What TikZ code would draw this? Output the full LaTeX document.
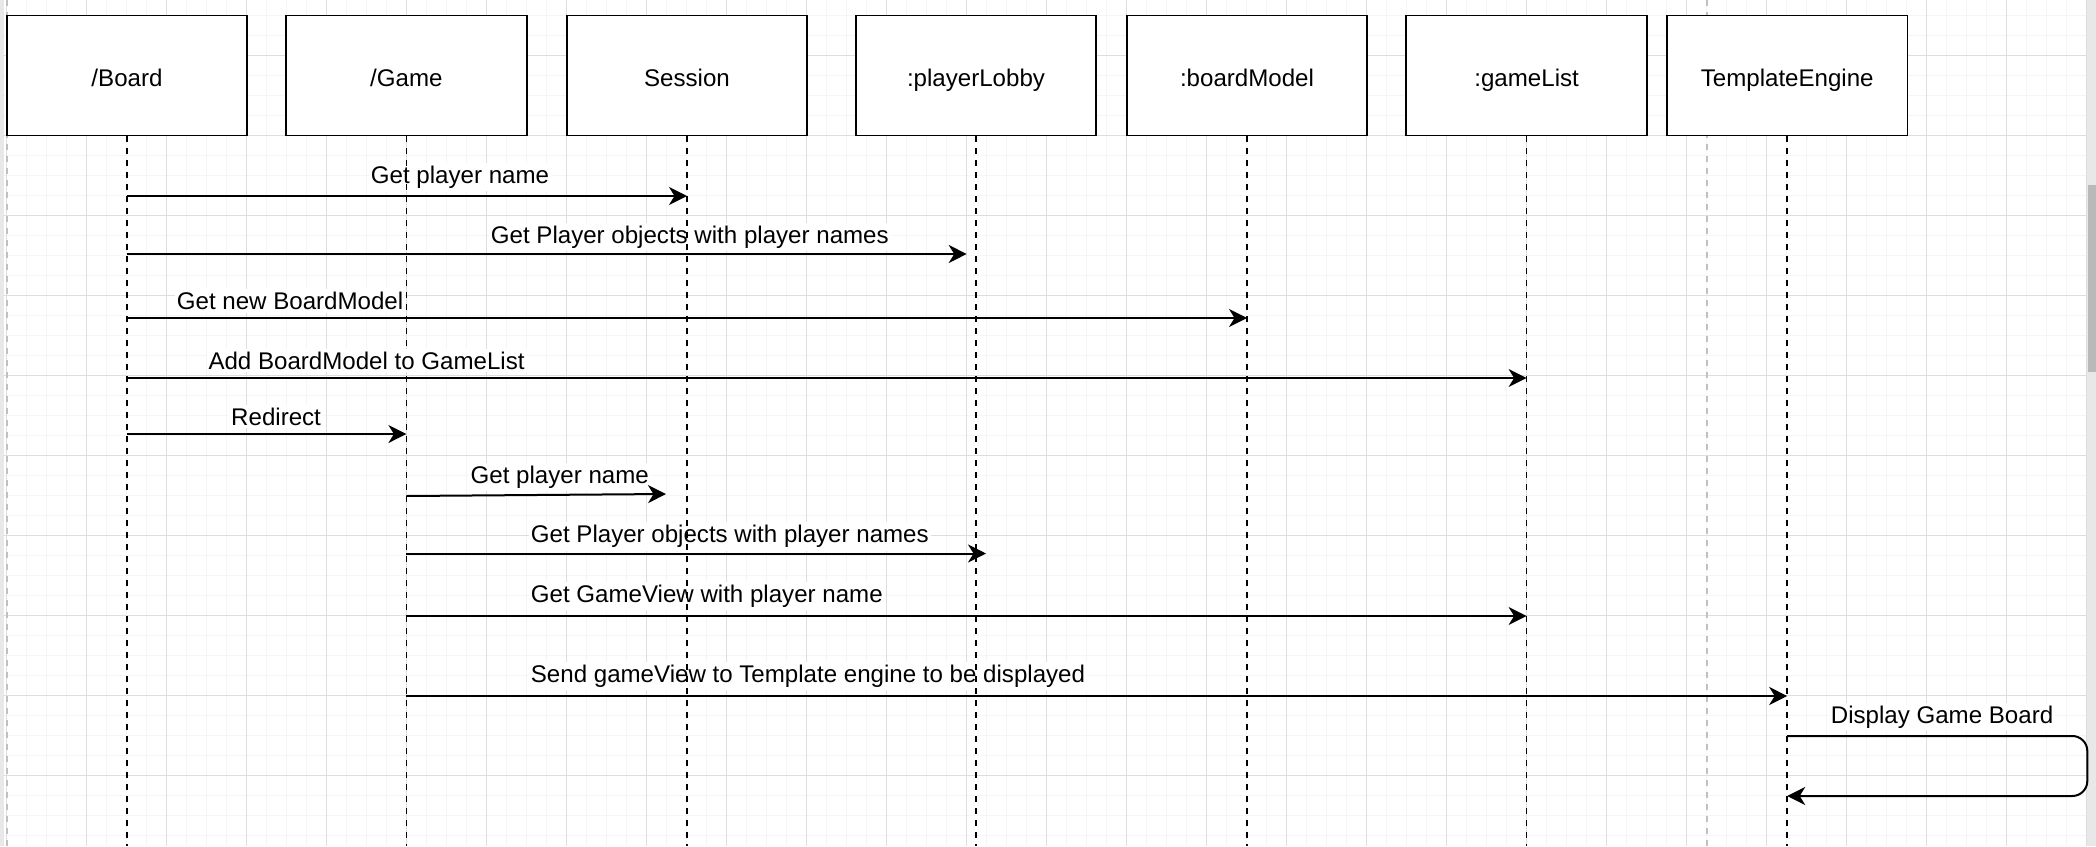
\documentclass[tikz,border=0pt]{standalone}
\usepackage{fontspec}
\setmainfont{Liberation Sans}
\usetikzlibrary{arrows.meta}
\definecolor{majorgrid}{RGB}{222,222,222}
\definecolor{minorgrid}{RGB}{245,245,245}
\definecolor{pagebreak}{RGB}{192,192,192}
\definecolor{trackgray}{RGB}{232,232,232}
\definecolor{thumbgray}{RGB}{185,185,185}
\begin{document}
\begin{tikzpicture}[x=1pt,y=-1pt,
  txt/.style={font=\fontsize{24.1pt}{28pt}\selectfont},
  box/.style={txt, draw=black, line width=1.8pt, fill=white, minimum width=240.6pt,
    minimum height=120pt, inner sep=0pt, text height=21pt, text depth=0pt},
  msglabel/.style={txt, anchor=base west, fill=white, inner xsep=2pt, inner ysep=3pt},
  lifeline/.style={draw=black, line width=1.7pt, dash pattern=on 6pt off 6pt},
  pageline/.style={draw=pagebreak, line width=1.7pt, dash pattern=on 6pt off 6pt},
  msg/.style={draw=black, line width=2pt, -{Stealth[length=18pt,width=18pt,inset=5.5pt]}},
  minorline/.style={draw=minorgrid, line width=1.2pt},
  majorline/.style={draw=majorgrid, line width=1pt}]
\useasboundingbox (0,0) rectangle (2096,846);
% background grid
\fill[white] (0,0) rectangle (2096,846);
\foreach \k in {0,...,104} \draw[minorline] ({6.7+20*\k},0) -- ({6.7+20*\k},846);
\foreach \k in {0,...,41} \draw[minorline] (0,{15.3+20*\k}) -- (2087,{15.3+20*\k});
\foreach \k in {0,...,26} \draw[majorline] ({6.7+80*\k},0) -- ({6.7+80*\k},846);
\foreach \k in {0,...,9} \draw[majorline] (0,{55.3+80*\k}) -- (2087,{55.3+80*\k});
% window edges
\fill[trackgray] (0,0) rectangle (4,846);
\fill[trackgray] (2087.3,0) rectangle (2096,846);
\fill[thumbgray] (2088.3,185) rectangle (2096,371.7);
% page break lines
\coordinate (pbA) at (6.7,0); \coordinate (pbB) at (6.7,846);
\coordinate (pbC) at (1706.7,0); \coordinate (pbD) at (1706.7,846);
\draw[pageline] (pbA) -- (pbB);
\draw[pageline] (pbC) -- (pbD);
% participants
\node[box] (b1) at (127,75.5) {/Board};
\node[box] (b2) at (406.4,75.5) {/Game};
\node[box] (b3) at (687,75.5) {Session};
\node[box] (b4) at (976,75.5) {:playerLobby};
\node[box] (b5) at (1247,75.5) {:boardModel};
\node[box] (b6) at (1526.6,75.5) {:gameList};
\node[box] (b7) at (1787.2,75.5) {TemplateEngine};
% message labels (under lifelines)
\node[msglabel] (l1) at (368.7,183.3) {Get player name};
\node[msglabel] (l2) at (488.7,243.3) {Get Player objects with player names};
\node[msglabel] (l3) at (174.7,309.3) {Get new BoardModel};
\node[msglabel] (l5) at (229,425) {Redirect};
\node[msglabel] (l6) at (468.5,483.3) {Get player name};
\node[msglabel] (l7) at (528.7,542.7) {Get Player objects with player names};
\node[msglabel] (l8) at (528.7,602.7) {Get GameView with player name};
\node[msglabel] (l9) at (528.7,682.7) {Send gameView to Template engine to be displayed};
\node[msglabel] (l10) at (1828.7,723.3) {Display Game Board};
% lifelines
\foreach \b in {b1,b2,b3,b4,b5,b6,b7} \draw[lifeline] (\b.south) -- (\b.south |- 0,846);
% label above lifeline
\node[msglabel] (l4) at (206.3,369) {Add BoardModel to GameList};
% message endpoints offset from lifelines
\coordinate (e2) at ([xshift=-9.3pt]b4.south);
\coordinate (e6) at ([xshift=-21pt]b3.south);
\coordinate (e7) at ([xshift=10pt]b4.south);
\coordinate (loopA) at (2087.3,736);
\coordinate (loopB) at (2087.3,796);
% messages
\draw[msg] (b1.south |- 0,196) -- (b3.south |- 0,196);
\draw[msg] (b1.south |- 0,254) -- (e2 |- 0,254);
\draw[msg] (b1.south |- 0,318) -- (b5.south |- 0,318);
\draw[msg] (b1.south |- 0,378) -- (b6.south |- 0,378);
\draw[msg] (b1.south |- 0,434) -- (b2.south |- 0,434);
\draw[msg] (b2.south |- 0,496) -- (e6 |- 0,494);
\draw[msg] (b2.south |- 0,553.5) -- (e7 |- 0,553.5);
\draw[msg] (b2.south |- 0,616) -- (b6.south |- 0,616);
\draw[msg] (b2.south |- 0,696) -- (b7.south |- 0,696);
\draw[msg, rounded corners=15pt] (b7.south |- 0,736) -- (loopA) -- (loopB) -- (b7.south |- 0,796);
\end{tikzpicture}
\end{document}
